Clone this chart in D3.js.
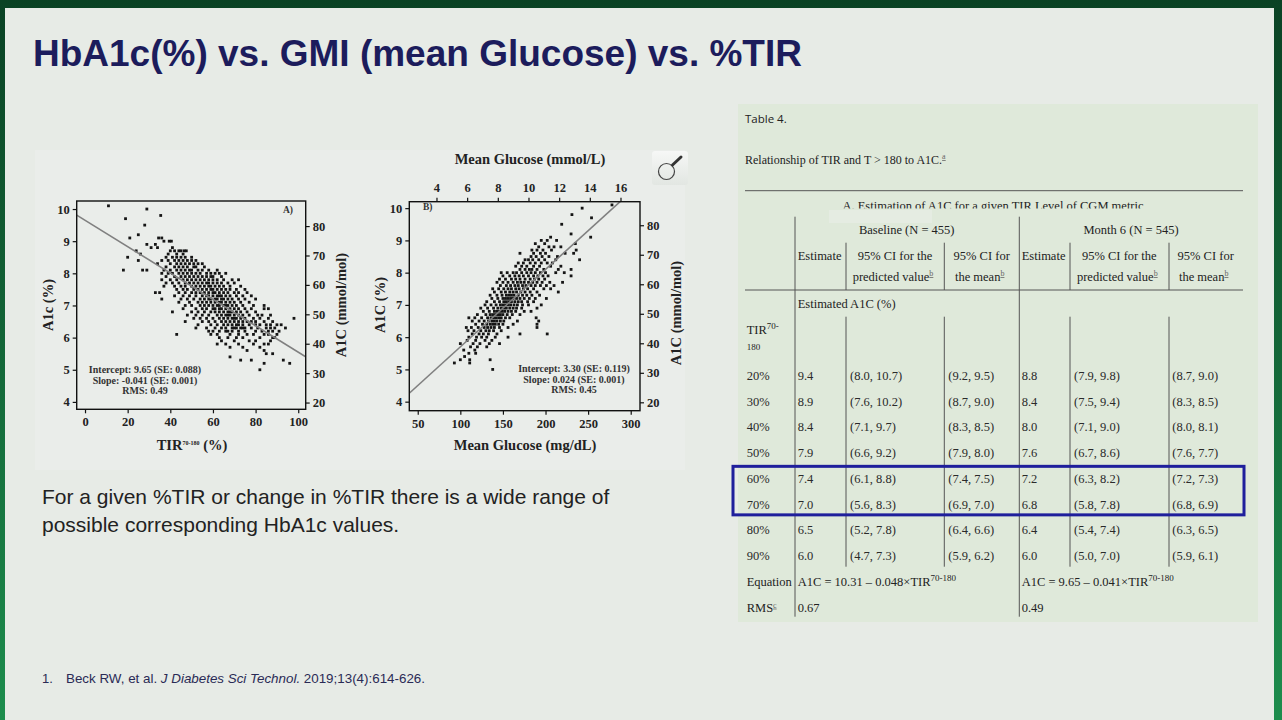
<!DOCTYPE html>
<html>
<head>
<meta charset="utf-8">
<script src="https://cdn.jsdelivr.net/npm/d3@7"></script>
<style>
  html, body { margin: 0; padding: 0; overflow: hidden; background: #0b4526; }
  svg { display: block; }
</style>
</head>
<body>
<svg id="slide" width="1282" height="720"></svg>
<script>

// ---- data -------------------------------------------------------------

// Panel A: each entry is [A1c %, [TIR 70-180 % values of the points on that row]]
const scatterA = [
  [10.1, [11]], [10.0, [29]], [9.8, [35.5]], [9.7, [19]], [9.5, [28]], [9.2, [25]],
  [9.1, [21, 34.5, 36]],
  [9.0, [37, 39.5, 40.5]],
  [8.9, [29, 33]],
  [8.8, [31, 34, 41]],
  [8.7, [24, 40, 42, 44, 45, 46.5, 47.5]],
  [8.6, [26, 39, 43, 46]],
  [8.5, [20, 38, 41, 43, 45, 47, 50]],
  [8.4, [25, 36, 39, 42, 44, 46, 48, 50, 52]],
  [8.3, [34, 40, 43, 45, 47, 49, 51, 53, 55]],
  [8.2, [38, 42, 44, 46, 48, 51, 52, 56]],
  [8.1, [18, 27, 29, 37, 40, 43, 45, 47, 49, 50, 53, 55, 58, 62]],
  [8.0, [36, 39, 41, 44, 46, 48, 50, 52, 54, 57, 59, 61, 63, 66]],
  [7.9, [38, 42, 45, 47, 49, 51, 53, 55, 57, 59, 60, 64]],
  [7.8, [36, 40, 43, 46, 48, 50, 52, 54, 56, 58, 60, 62, 65, 69, 72]],
  [7.7, [38, 41, 44, 47, 49, 51, 53, 55, 57, 58, 60, 62, 64, 67, 70]],
  [7.6, [37, 42, 45, 47, 50, 52, 54, 56, 58, 59, 61, 63, 65, 68, 73]],
  [7.5, [43, 46, 48, 51, 53, 55, 57, 59, 60, 62, 64, 66, 68, 71, 75]],
  [7.4, [33, 35, 44, 47, 50, 52, 54, 56, 58, 60, 61, 63, 65, 67, 70, 72, 76]],
  [7.3, [42, 46, 49, 52, 55, 57, 58, 60, 62, 63, 64, 66, 68, 71, 74, 78]],
  [7.2, [36, 45, 48, 51, 54, 56, 58, 59, 61, 62, 64, 65, 67, 69, 72, 75, 80]],
  [7.1, [44, 49, 53, 55, 57, 59, 61, 63, 64, 66, 68, 70, 73, 77]],
  [7.0, [47, 50, 54, 56, 58, 60, 62, 63, 65, 66, 67, 69, 71, 74, 79, 84]],
  [6.9, [46, 52, 55, 57, 60, 61, 63, 64, 66, 68, 70, 72, 75, 78, 84, 86]],
  [6.8, [41, 50, 53, 56, 59, 61, 63, 65, 67, 68, 69, 71, 73, 76, 80]],
  [6.7, [48, 52, 55, 58, 62, 64, 66, 67, 68, 70, 72, 74, 77, 81, 83, 87]],
  [6.6, [51, 54, 57, 60, 63, 65, 67, 69, 70, 71, 73, 75, 79, 82, 86, 98]],
  [6.5, [47, 55, 58, 61, 64, 66, 68, 70, 72, 74, 76, 78, 80, 84, 88]],
  [6.4, [53, 59, 62, 65, 67, 69, 71, 72, 74, 77, 80, 82, 85, 87, 90, 92]],
  [6.3, [52, 57, 61, 64, 66, 69, 70, 71, 73, 74, 75, 78, 81, 85, 87, 89, 94]],
  [6.2, [58, 60, 63, 66, 67, 69, 72, 75, 80, 83, 86, 88, 91]],
  [6.1, [43, 59, 62, 68, 72, 76, 79, 84, 86, 90]],
  [6.0, [63, 67, 71, 74, 82, 88, 89]],
  [5.9, [64, 70, 77, 80, 87]],
  [5.8, [62, 66, 72, 79, 84, 86]],
  [5.7, [68, 74, 82]],
  [5.6, [76, 84]],
  [5.5, [85, 88]],
  [5.4, [68]],
  [5.3, [73, 78, 93]],
  [5.2, [84, 96]],
  [5.0, [82]]
];

// Panel B: each entry is [A1c %, [mean glucose mg/dL values on that row]]
const scatterB = [
  [10.1, [278]], [10.0, [243]], [9.8, [231]], [9.7, [254]], [9.5, [219]], [9.2, [230]],
  [9.1, [206, 253]],
  [9.0, [195, 202, 213]],
  [8.9, [188, 199, 235]],
  [8.8, [192, 204, 210, 218]],
  [8.7, [184, 190, 197, 207, 236]],
  [8.6, [170, 186, 194, 200, 223, 233]],
  [8.5, [183, 189, 196, 204, 214]],
  [8.4, [176, 180, 185, 192, 199, 212, 240]],
  [8.3, [168, 174, 182, 188, 195, 202, 208]],
  [8.2, [165, 172, 178, 186, 193, 206, 218]],
  [8.1, [170, 176, 181, 184, 190, 198, 215, 230]],
  [8.0, [148, 155, 162, 166, 172, 178, 183, 188, 194, 200, 212, 222]],
  [7.9, [150, 158, 164, 169, 174, 180, 186, 191, 197, 203, 230]],
  [7.8, [146, 153, 160, 165, 170, 176, 182, 187, 192, 199]],
  [7.7, [143, 150, 156, 162, 167, 171, 175, 180, 185, 190, 196, 205, 220]],
  [7.6, [147, 154, 159, 164, 168, 173, 177, 183, 188, 194, 201, 210]],
  [7.5, [138, 145, 151, 156, 160, 165, 169, 174, 179, 186, 198, 206]],
  [7.4, [140, 148, 153, 158, 162, 166, 171, 176, 182, 190, 215]],
  [7.3, [135, 143, 149, 154, 157, 160, 163, 168, 173, 178, 184, 193]],
  [7.2, [137, 144, 150, 153, 156, 159, 162, 166, 170, 175, 181, 188, 201]],
  [7.1, [131, 140, 146, 151, 154, 157, 160, 164, 168, 172, 179, 186]],
  [7.0, [129, 136, 142, 147, 150, 153, 156, 159, 163, 167, 173, 180, 195]],
  [6.9, [124, 132, 139, 144, 148, 151, 154, 158, 162, 166, 172, 190]],
  [6.8, [127, 134, 140, 143, 146, 149, 152, 156, 160, 165, 175, 183]],
  [6.7, [120, 130, 135, 138, 141, 144, 147, 150, 155, 161, 170]],
  [6.6, [110, 117, 125, 132, 136, 139, 142, 145, 148, 153, 158, 189]],
  [6.5, [114, 122, 128, 133, 137, 140, 143, 147, 151, 167, 192]],
  [6.4, [118, 126, 131, 135, 138, 141, 145, 150, 162, 190]],
  [6.3, [107, 113, 121, 128, 132, 136, 140, 146, 156, 190]],
  [6.2, [109, 116, 124, 130, 134, 139, 148]],
  [6.1, [114, 122, 127, 133, 143, 170, 202]],
  [6.0, [110, 119, 125, 131, 141, 156]],
  [5.9, [108, 118, 129, 137]],
  [5.8, [100, 115, 123, 134, 146]],
  [5.7, [112, 120, 131]],
  [5.6, [104, 117]],
  [5.5, [110, 118]],
  [5.4, [105]],
  [5.3, [100, 111, 135]],
  [5.2, [93, 111]],
  [5.0, [138]]
];

// regression fits printed in the panels
const fitA = { intercept: 9.65, slope: -0.041 };
const fitB = { intercept: 3.30, slope: 0.024 };
const statsA = ['Intercept: 9.65 (SE: 0.088)', 'Slope: -0.041 (SE: 0.001)', 'RMS: 0.49'];
const statsB = ['Intercept: 3.30 (SE: 0.119)', 'Slope: 0.024 (SE: 0.001)', 'RMS: 0.45'];

// tick values
const ticksA1c     = [4, 5, 6, 7, 8, 9, 10];
const ticksMmolMol = [20, 30, 40, 50, 60, 70, 80];
const ticksTIR     = [0, 20, 40, 60, 80, 100];
const ticksMgdl    = [50, 100, 150, 200, 250, 300];
const ticksMmolL   = [4, 6, 8, 10, 12, 14, 16];

// Table 4
const tirLevels = ['20%', '30%', '40%', '50%', '60%', '70%', '80%', '90%'];
const baseEst   = [9.4, 8.9, 8.4, 7.9, 7.4, 7.0, 6.5, 6.0];
const basePred  = [[8.0, 10.7], [7.6, 10.2], [7.1, 9.7], [6.6, 9.2], [6.1, 8.8], [5.6, 8.3], [5.2, 7.8], [4.7, 7.3]];
const baseMean  = [[9.2, 9.5], [8.7, 9.0], [8.3, 8.5], [7.9, 8.0], [7.4, 7.5], [6.9, 7.0], [6.4, 6.6], [5.9, 6.2]];
const m6Est     = [8.8, 8.4, 8.0, 7.6, 7.2, 6.8, 6.4, 6.0];
const m6Pred    = [[7.9, 9.8], [7.5, 9.4], [7.1, 9.0], [6.7, 8.6], [6.3, 8.2], [5.8, 7.8], [5.4, 7.4], [5.0, 7.0]];
const m6Mean    = [[8.7, 9.0], [8.3, 8.5], [8.0, 8.1], [7.6, 7.7], [7.2, 7.3], [6.8, 6.9], [6.3, 6.5], [5.9, 6.1]];
const equations = ['A1C = 10.31 \u2013 0.048\u00d7TIR', 'A1C = 9.65 \u2013 0.041\u00d7TIR'];
const rmsValues = ['0.67', '0.49'];
const highlightRows = ['60%', '70%'];

// ---- helpers ----------------------------------------------------------

const serif = '"Liberation Serif", "Times New Roman", serif';
const sans  = '"Liberation Sans", Arial, sans-serif';
const f1    = d3.format('.1f');

const mmolPerPct = (a) => (a - 2.15) * 10.929;   // IFCC mmol/mol from NGSP %

const svg = d3.select('#slide');

// ---- slide frame ------------------------------------------------------

const defs = svg.append('defs');
const frameGrad = defs.append('linearGradient')
  .attr('id', 'frame').attr('x1', 0).attr('y1', 0).attr('x2', 0).attr('y2', 1);
frameGrad.append('stop').attr('offset', '0%').attr('stop-color', '#0a4224');
frameGrad.append('stop').attr('offset', '100%').attr('stop-color', '#1d8d4d');

svg.append('rect').attr('width', 1282).attr('height', 720).attr('fill', 'url(#frame)');
svg.append('rect')
  .attr('x', 5).attr('y', 8).attr('width', 1269).attr('height', 712)
  .attr('fill', '#e7ebe6');

svg.append('text')
  .attr('x', 33).attr('y', 66)
  .style('font', `bold 37px ${sans}`)
  .attr('fill', '#1c1c5c')
  .text('HbA1c(%) vs. GMI (mean Glucose) vs. %TIR');

svg.append('text')
  .attr('fill', '#222')
  .style('font', `21px ${sans}`)
  .selectAll('tspan')
  .data(['For a given %TIR or change in %TIR there is a wide range of',
         'possible corresponding HbA1c values.'])
  .join('tspan')
  .attr('x', 42)
  .attr('y', (d, i) => 504 + i * 27.5)
  .text(d => d);

svg.append('text')
  .attr('x', 42).attr('y', 683)
  .attr('fill', '#2a2a55')
  .style('font', `13px ${sans}`)
  .text('1.');

const ref = svg.append('text')
  .attr('x', 66).attr('y', 683)
  .attr('fill', '#2a2a55')
  .attr('textLength', 359).attr('lengthAdjust', 'spacingAndGlyphs')
  .style('font', `13px "Liberation Sans Narrow", ${sans}`);
ref.append('tspan').text('Beck RW,  et al. ');
ref.append('tspan').style('font-style', 'italic').text('J Diabetes Sci Technol.');
ref.append('tspan').text(' 2019;13(4):614-626.');

// ---- scatter panels ---------------------------------------------------

svg.append('rect')
  .attr('x', 35).attr('y', 150).attr('width', 650).attr('height', 320)
  .attr('fill', '#eaedea');

function styleAxis(g) {
  g.select('.domain').remove();
  g.selectAll('.tick line').attr('stroke', '#111').attr('stroke-width', 1.2);
  g.selectAll('.tick text')
    .attr('fill', '#222')
    .style('font', `bold 12.5px ${serif}`);
}

function drawPanel(opts) {
  const { x, y, yRight, xTop, rows, fit, stats, statsX, statsY, tag, tagX, tagY, id } = opts;
  const [x0, x1] = x.range(), [y0, y1] = y.range();

  const g = svg.append('g');

  defs.append('clipPath').attr('id', id)
    .append('rect')
    .attr('x', x0).attr('y', y1).attr('width', x1 - x0).attr('height', y0 - y1);

  const pts = rows.flatMap(([a, xs]) => xs.map(v => [v, a]));

  g.append('g')
    .attr('clip-path', `url(#${id})`)
    .selectAll('rect')
    .data(pts)
    .join('rect')
    .attr('x', d => x(d[0]) - 1.4)
    .attr('y', d => y(d[1]) - 1.4)
    .attr('width', 2.8)
    .attr('height', 2.8)
    .attr('fill', '#151515');

  const xd = x.domain();
  g.append('line')
    .attr('clip-path', `url(#${id})`)
    .attr('x1', x(xd[0])).attr('y1', y(fit.intercept + fit.slope * xd[0]))
    .attr('x2', x(xd[1])).attr('y2', y(fit.intercept + fit.slope * xd[1]))
    .attr('stroke', '#808080')
    .attr('stroke-width', 1.6);

  g.append('rect')
    .attr('x', x0).attr('y', y1).attr('width', x1 - x0).attr('height', y0 - y1)
    .attr('fill', 'none')
    .attr('stroke', '#111')
    .attr('stroke-width', 1.4);

  g.append('g').attr('transform', `translate(${x0},0)`)
    .call(d3.axisLeft(y).tickValues(ticksA1c).tickSize(4).tickPadding(3).tickFormat(d3.format('d')))
    .call(styleAxis);

  g.append('g').attr('transform', `translate(${x1},0)`)
    .call(d3.axisRight(yRight).tickValues(ticksMmolMol).tickSize(4).tickPadding(3))
    .call(styleAxis);

  g.append('g').attr('transform', `translate(0,${y0})`)
    .call(d3.axisBottom(x).tickValues(opts.xTicks).tickSize(4).tickPadding(4))
    .call(styleAxis);

  if (xTop) {
    g.append('g').attr('transform', `translate(0,${y1})`)
      .call(d3.axisTop(xTop).tickValues(ticksMmolL).tickSize(4).tickPadding(6))
      .call(styleAxis);
  }

  g.append('text')
    .attr('x', tagX).attr('y', tagY)
    .attr('fill', '#333')
    .style('font', `bold 9.5px ${serif}`)
    .text(tag);

  g.append('g')
    .selectAll('text')
    .data(stats)
    .join('text')
    .attr('x', statsX)
    .attr('y', (d, i) => statsY + i * 10.7)
    .attr('text-anchor', 'middle')
    .attr('fill', '#333')
    .style('font', `bold 10px ${serif}`)
    .text(d => d);

  return g;
}

// Panel A
const xA = d3.scaleLinear().domain([-3.9, 103.5]).range([76.7, 305.7]);
const yA = d3.scaleLinear().domain([3.77, 10.25]).range([409.3, 201]);
const yAr = d3.scaleLinear().domain(yA.domain().map(mmolPerPct)).range(yA.range());

const gA = drawPanel({
  id: 'clipA', x: xA, y: yA, yRight: yAr, xTicks: ticksTIR,
  rows: scatterA, fit: fitA, stats: statsA, statsX: 145, statsY: 373,
  tag: 'A)', tagX: 283, tagY: 213
});

// Panel B
const xB = d3.scaleLinear().domain([40.1, 310.9]).range([409.3, 640]);
const yB = d3.scaleLinear().domain([3.72, 10.2]).range([410.7, 201.7]);
const yBr = d3.scaleLinear().domain(yB.domain().map(mmolPerPct)).range(yB.range());
const xBt = d3.scaleLinear().domain(xB.domain().map(v => v / 18)).range(xB.range());

const gB = drawPanel({
  id: 'clipB', x: xB, y: yB, yRight: yBr, xTop: xBt, xTicks: ticksMgdl,
  rows: scatterB, fit: fitB, stats: statsB, statsX: 574, statsY: 372,
  tag: 'B)', tagX: 423, tagY: 210
});

function axisTitle(g, text, x, y, rotate) {
  return g.append('text')
    .attr('transform', `translate(${x},${y})${rotate ? ' rotate(-90)' : ''}`)
    .attr('text-anchor', 'middle')
    .attr('fill', '#222')
    .style('font', `bold 14.5px ${serif}`)
    .text(text);
}

axisTitle(gA, 'A1c (%)', 53, 305, true);
axisTitle(gA, 'A1C (mmol/mol)', 346, 305, true);
const tirTitle = axisTitle(gA, 'TIR', 192, 450, false).text(null);
tirTitle.append('tspan').text('TIR');
tirTitle.append('tspan').attr('dy', -5).style('font-size', '6px').text('70-180');
tirTitle.append('tspan').attr('dy', 5).text(' (%)');

axisTitle(gB, 'A1C (%)', 385, 305, true);
axisTitle(gB, 'A1C (mmol/mol)', 681, 313, true);
axisTitle(gB, 'Mean Glucose (mg/dL)', 525, 450, false);
axisTitle(gB, 'Mean Glucose (mmol/L)', 530, 164, false);

// magnifier icon
const iconGrad = defs.append('linearGradient')
  .attr('id', 'icon').attr('x1', 0).attr('y1', 0).attr('x2', 0).attr('y2', 1);
iconGrad.append('stop').attr('offset', '0%').attr('stop-color', '#f6f7f6');
iconGrad.append('stop').attr('offset', '100%').attr('stop-color', '#e2e6e2');
const icon = svg.append('g');
icon.append('rect')
  .attr('x', 652).attr('y', 151).attr('width', 36).attr('height', 34).attr('rx', 3)
  .attr('fill', 'url(#icon)');
icon.append('circle')
  .attr('cx', 666.5).attr('cy', 171.5).attr('r', 8)
  .attr('fill', 'none').attr('stroke', '#444').attr('stroke-width', 1.2);
icon.append('line')
  .attr('x1', 672.5).attr('y1', 165).attr('x2', 681).attr('y2', 157)
  .attr('stroke', '#333').attr('stroke-width', 3).attr('stroke-linecap', 'round');

// ---- Table 4 ----------------------------------------------------------

const tbl = svg.append('g');

tbl.append('rect')
  .attr('x', 738).attr('y', 104).attr('width', 520).attr('height', 518)
  .attr('fill', '#dfe9da');

tbl.append('text')
  .attr('x', 745).attr('y', 123)
  .attr('fill', '#222')
  .style('font', `11.5px "Open Sans", "Noto Sans", sans-serif`)
  .text('Table 4.');

const relTitle = tbl.append('text')
  .attr('x', 745).attr('y', 164)
  .attr('fill', '#222')
  .style('font', `12px ${serif}`);
relTitle.append('tspan').text('Relationship of TIR and T > 180 to A1C.');
relTitle.append('tspan').attr('dy', -5).style('font-size', '8px')
  .style('text-decoration', 'underline').attr('fill', '#666').text('a');

const colX = { label: 746.7, est1: 797.7, pred1: 850, mean1: 948.3, est2: 1021.7, pred2: 1074, mean2: 1172.3 };
const tableFont = `12.5px ${serif}`;
const ruleColor = '#555';

// horizontal rules
tbl.selectAll('line.rule')
  .data([190.7, 290])
  .join('line')
  .attr('class', 'rule')
  .attr('x1', 745).attr('x2', 1243)
  .attr('y1', d => d).attr('y2', d => d)
  .attr('stroke', ruleColor).attr('stroke-width', 1);

// group dividers
tbl.selectAll('line.major')
  .data([795, 1019.3])
  .join('line')
  .attr('class', 'major')
  .attr('x1', d => d).attr('x2', d => d)
  .attr('y1', 216.7).attr('y2', 616.7)
  .attr('stroke', ruleColor).attr('stroke-width', 1);

// sub-column dividers (header part and body part)
const subCols = [846, 944.3, 1070, 1169];
[[242.7, 290], [316.7, 566.7]].forEach(([a, b]) => {
  tbl.append('g').selectAll('line')
    .data(subCols)
    .join('line')
    .attr('x1', d => d).attr('x2', d => d)
    .attr('y1', a).attr('y2', b)
    .attr('stroke', ruleColor).attr('stroke-width', 1);
});

// clipped section title
defs.append('clipPath').attr('id', 'clipSection')
  .append('rect').attr('x', 740).attr('y', 190).attr('width', 510).attr('height', 18.6);
tbl.append('text')
  .attr('x', 993).attr('y', 210)
  .attr('text-anchor', 'middle')
  .attr('clip-path', 'url(#clipSection)')
  .attr('fill', '#222')
  .style('font', tableFont)
  .text('A. Estimation of A1C for a given TIR Level of CGM metric');
tbl.append('rect')
  .attr('x', 829).attr('y', 210).attr('width', 103).attr('height', 13)
  .attr('fill', '#e5ece2');

// group headers
tbl.selectAll('text.group')
  .data([['Baseline (N = 455)', 906.7], ['Month 6 (N = 545)', 1131]])
  .join('text')
  .attr('class', 'group')
  .attr('x', d => d[1]).attr('y', 234)
  .attr('text-anchor', 'middle')
  .attr('fill', '#222')
  .style('font', tableFont)
  .text(d => d[0]);

// column headers
const headers = [
  { x: colX.est1, anchor: 'start', lines: ['Estimate'] },
  { x: 895, anchor: 'middle', lines: ['95% CI for the', 'predicted value'] },
  { x: 981.7, anchor: 'middle', lines: ['95% CI for', 'the mean'] },
  { x: colX.est2, anchor: 'start', lines: ['Estimate'] },
  { x: 1119.3, anchor: 'middle', lines: ['95% CI for the', 'predicted value'] },
  { x: 1205.7, anchor: 'middle', lines: ['95% CI for', 'the mean'] }
];
headers.forEach(h => {
  h.lines.forEach((line, i) => {
    const t = tbl.append('text')
      .attr('x', h.x + (i === 1 ? -2 : 0)).attr('y', 260 + i * 21)
      .attr('text-anchor', h.anchor)
      .attr('fill', '#222')
      .style('font', tableFont);
    t.append('tspan').text(line);
    if (i === 1) {
      t.append('tspan').attr('dy', -5).style('font-size', '8px')
        .style('text-decoration', 'underline').attr('fill', '#666').text('b');
    }
  });
});

tbl.append('text')
  .attr('x', colX.est1).attr('y', 307.5)
  .attr('fill', '#222').style('font', tableFont)
  .text('Estimated A1C (%)');

const tirHead = tbl.append('text')
  .attr('x', colX.label).attr('y', 333.5)
  .attr('fill', '#222').style('font', tableFont);
tirHead.append('tspan').text('TIR');
tirHead.append('tspan').attr('dy', -5).style('font-size', '9px').text('70-');
tbl.append('text')
  .attr('x', colX.label).attr('y', 350)
  .attr('fill', '#222').style('font', `9px ${serif}`)
  .text('180');

// body rows
const rowY = d3.scaleLinear().domain([0, 9]).range([375.7, 607.3]);   // row centres

const bodyRows = tirLevels.map((lvl, i) => ({
  cells: [
    [colX.label, lvl],
    [colX.est1, f1(baseEst[i])],
    [colX.pred1, `(${basePred[i].map(f1).join(', ')})`],
    [colX.mean1, `(${baseMean[i].map(f1).join(', ')})`],
    [colX.est2, f1(m6Est[i])],
    [colX.pred2, `(${m6Pred[i].map(f1).join(', ')})`],
    [colX.mean2, `(${m6Mean[i].map(f1).join(', ')})`]
  ]
}));

const rowG = tbl.append('g')
  .selectAll('g')
  .data(bodyRows)
  .join('g')
  .attr('transform', (d, i) => `translate(0,${rowY(i) + 4.3})`);

rowG.selectAll('text')
  .data(d => d.cells)
  .join('text')
  .attr('x', d => d[0])
  .attr('fill', '#2a2a2a')
  .style('font', tableFont)
  .text(d => d[1]);

// equation row
tbl.append('text')
  .attr('x', colX.label).attr('y', rowY(8) + 4.3)
  .attr('fill', '#222').style('font', tableFont)
  .text('Equation');
equations.forEach((eq, k) => {
  const t = tbl.append('text')
    .attr('x', k === 0 ? colX.est1 : colX.est2).attr('y', rowY(8) + 4.3)
    .attr('fill', '#222').style('font', tableFont);
  t.append('tspan').text(eq);
  t.append('tspan').attr('dy', -5).style('font-size', '9px').text('70-180');
});

// RMS row
const rmsHead = tbl.append('text')
  .attr('x', colX.label).attr('y', rowY(9) + 4.3)
  .attr('fill', '#222').style('font', tableFont);
rmsHead.append('tspan').text('RMS');
rmsHead.append('tspan').attr('dy', -4).style('font-size', '8px')
  .style('text-decoration', 'underline').attr('fill', '#666').text('c');
rmsValues.forEach((v, k) => {
  tbl.append('text')
    .attr('x', k === 0 ? colX.est1 : colX.est2).attr('y', rowY(9) + 4.3)
    .attr('fill', '#222').style('font', tableFont)
    .text(v);
});

// highlight box around the 60% and 70% rows
const hi = highlightRows.map(r => tirLevels.indexOf(r));
tbl.append('rect')
  .attr('x', 733)
  .attr('y', rowY(d3.min(hi)) - 12.3)
  .attr('width', 511)
  .attr('height', rowY(d3.max(hi)) - rowY(d3.min(hi)) + 22.8)
  .attr('fill', 'none')
  .attr('stroke', '#1f1f9c')
  .attr('stroke-width', 3);

</script>
</body>
</html>
